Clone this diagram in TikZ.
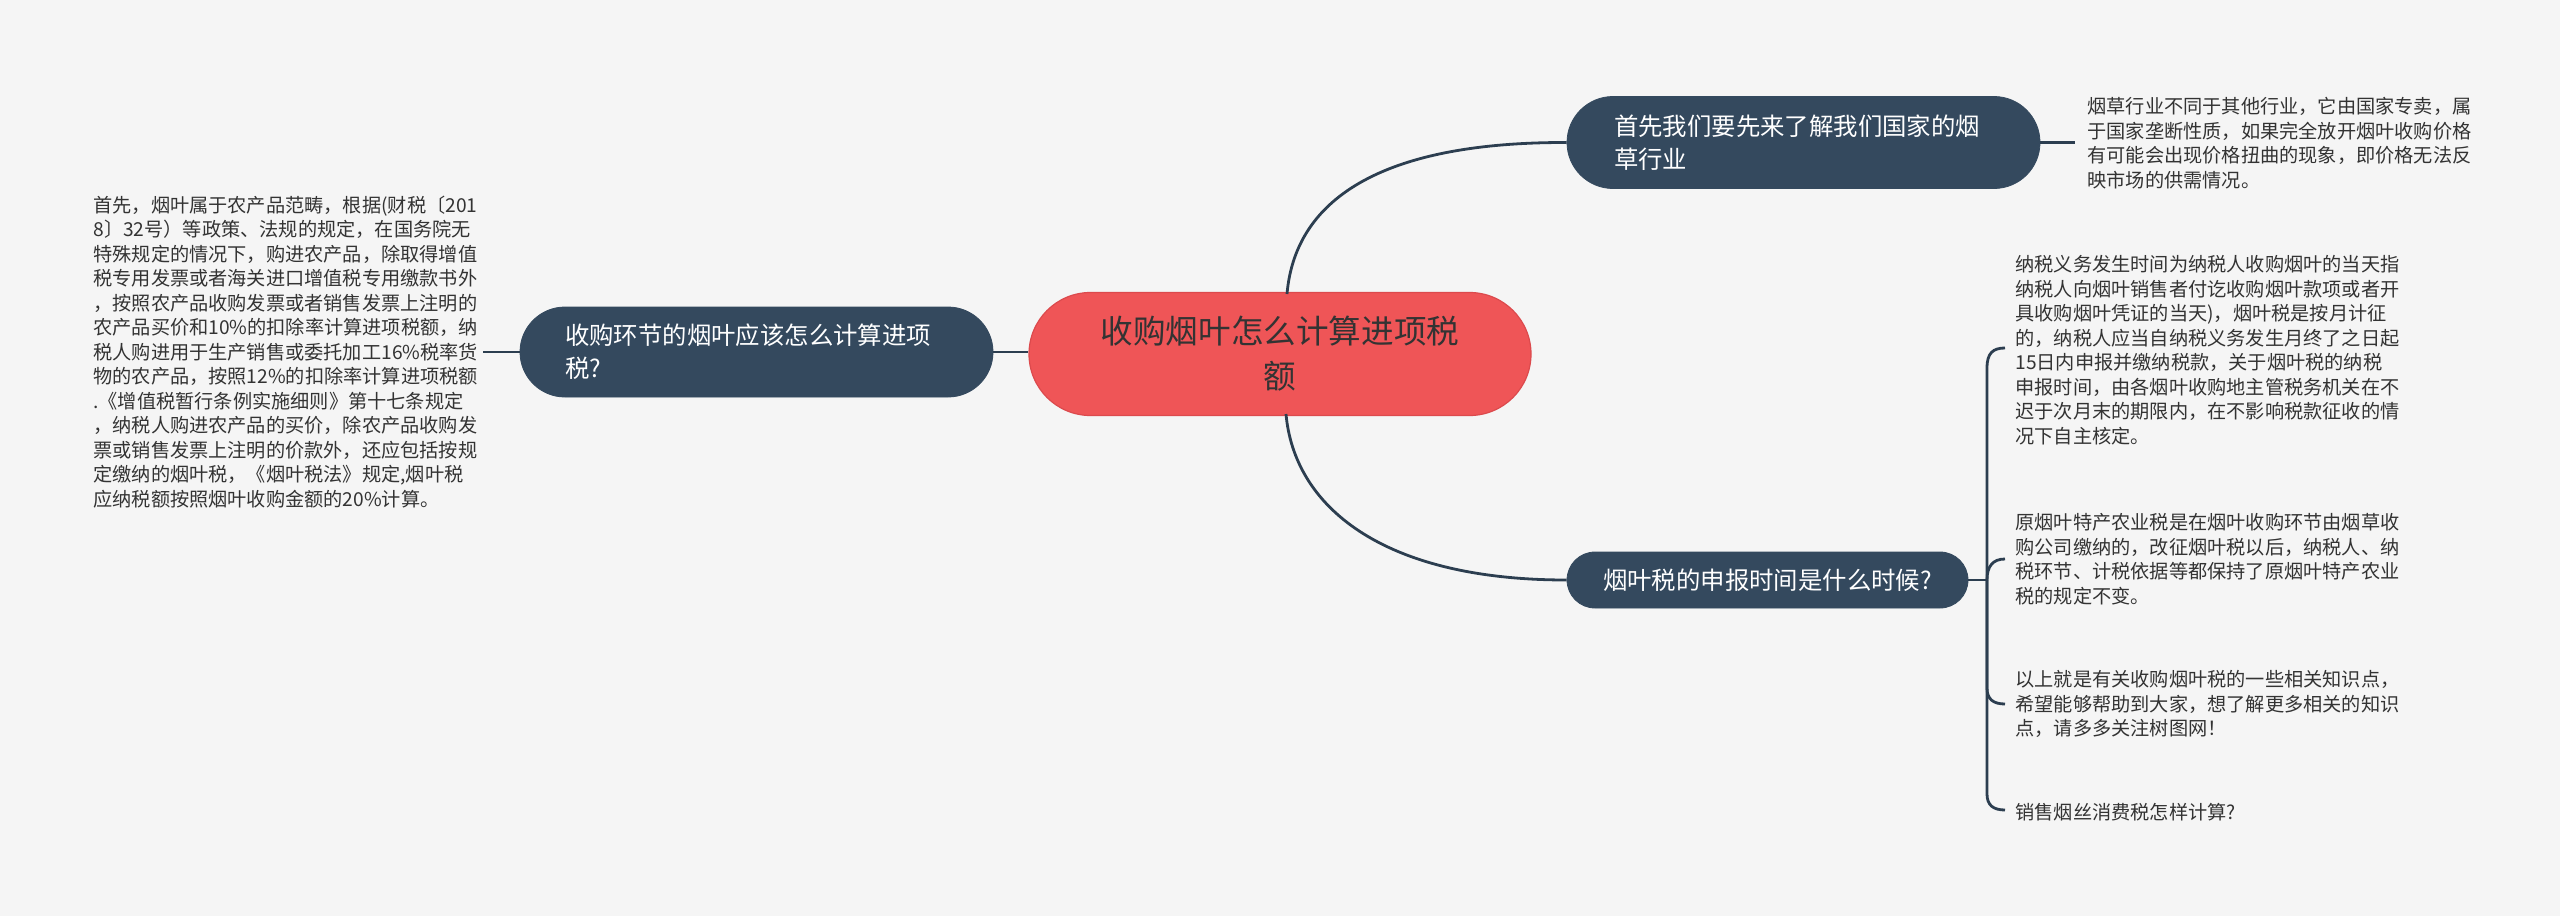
\documentclass[tikz,border=0pt]{standalone}
\usepackage{fontspec}
\setmainfont{Noto Sans CJK SC}
\definecolor{bg}{HTML}{F5F5F5}
\definecolor{dark}{HTML}{34495E}
\definecolor{edge}{HTML}{2C3E50}
\definecolor{rootred}{HTML}{EF5557}
\definecolor{rootline}{HTML}{DC4A4D}
\definecolor{txt}{HTML}{333333}
\begin{document}
\begin{tikzpicture}[x=0.5pt,y=-0.5pt,
  conn/.style={draw=edge,line width=1.4pt},
  mainnode/.style={fill=dark,draw=dark,text=white,font=\fontsize{12.2pt}{16.5pt}\selectfont,inner ysep=0pt},
  leaf/.style={text=txt,font=\fontsize{9.6pt}{12.25pt}\selectfont,align=left,anchor=west,inner sep=0pt,text width=215pt}]
\fill[bg] (0,0) rectangle (2560,916);
\useasboundingbox (0,0) rectangle (2560,916);

% root
\node[fill=rootred,draw=rootline,line width=0.6pt,text=txt,minimum width=251pt,minimum height=61.5pt,
  rounded corners=30.75pt,align=center,inner sep=0pt,font=\fontsize{16.3pt}{22.5pt}\selectfont]
  (root) at (1280,354) {收购烟叶怎么计算进项税\\额};

% main branches
\node[mainnode,minimum width=236.5pt,minimum height=46pt,rounded corners=23pt,
  text width=189.5pt,inner xsep=23.5pt,align=left] (n1) at (1803.5,142.5)
  {首先我们要先来了解我们国家的烟\\草行业};
\node[mainnode,minimum width=236.5pt,minimum height=45pt,rounded corners=22.5pt,
  text width=191.5pt,inner xsep=22.5pt,align=left] (n2) at (756.5,352)
  {收购环节的烟叶应该怎么计算进项\\税?};
\node[mainnode,minimum width=200.5pt,minimum height=28pt,rounded corners=14pt,
  align=center,inner xsep=0pt] (n3) at (1767.5,580)
  {烟叶税的申报时间是什么时候?};

% leaves
\node[leaf] (t0) at (2087,143) {烟草行业不同于其他行业，它由国家专卖，属\\
于国家垄断性质，如果完全放开烟叶收购价格\\
有可能会出现价格扭曲的现象，即价格无法反\\
映市场的供需情况。};

\node[leaf] (tl) at (93,352) {首先，烟叶属于农产品范畴，根据(财税〔201\\
8〕32号）等政策、法规的规定，在国务院无\\
特殊规定的情况下，购进农产品，除取得增值\\
税专用发票或者海关进口增值税专用缴款书外\\
，按照农产品收购发票或者销售发票上注明的\\
农产品买价和10\%的扣除率计算进项税额，纳\\
税人购进用于生产销售或委托加工16\%税率货\\
物的农产品，按照12\%的扣除率计算进项税额\\
.《增值税暂行条例实施细则》第十七条规定\\
，纳税人购进农产品的买价，除农产品收购发\\
票或销售发票上注明的价款外，还应包括按规\\
定缴纳的烟叶税，《烟叶税法》规定,烟叶税\\
应纳税额按照烟叶收购金额的20\%计算。};

\node[leaf] (t1) at (2015,350) {纳税义务发生时间为纳税人收购烟叶的当天指\\
纳税人向烟叶销售者付讫收购烟叶款项或者开\\
具收购烟叶凭证的当天)，烟叶税是按月计征\\
的，纳税人应当自纳税义务发生月终了之日起\\
15日内申报并缴纳税款，关于烟叶税的纳税\\
申报时间，由各烟叶收购地主管税务机关在不\\
迟于次月末的期限内，在不影响税款征收的情\\
况下自主核定。};

\node[leaf] (t2) at (2015,559) {原烟叶特产农业税是在烟叶收购环节由烟草收\\
购公司缴纳的，改征烟叶税以后，纳税人、纳\\
税环节、计税依据等都保持了原烟叶特产农业\\
税的规定不变。};

\node[leaf] (t3) at (2015,704) {以上就是有关收购烟叶税的一些相关知识点，\\
希望能够帮助到大家，想了解更多相关的知识\\
点，请多多关注树图网！};

\node[leaf] (t4) at (2015,812) {销售烟丝消费税怎样计算?};

% connectors
\coordinate (r1) at (1287,294);
\coordinate (r2) at (1286,414);
\draw[conn] (r1) .. controls (1295,200) and (1380,142) .. (n1.west);
\draw[conn] (r2) .. controls (1294,505) and (1380,580) .. (n3.west);
\draw[conn] (n2.east) -- (n2.east -| root.west);
\coordinate (lc) at (483,352);
\draw[conn] (lc) -- (n2.west);
\coordinate (c1) at (2075,142.5);
\draw[conn] (n1.east) -- (c1);

\coordinate (sp) at (1987,580);
\coordinate (k1) at (2005,348);
\coordinate (k2) at (2005,559);
\coordinate (k3) at (2005,704);
\coordinate (k4) at (2005,810);
\draw[conn] (n3.east) -- (sp);
\draw[conn] (sp) -- (1987,368) .. controls (1987,353) and (1993,348) .. (k1);
\draw[conn] (sp) .. controls (1987,566) and (1993,559) .. (k2);
\draw[conn] (sp) -- (1987,688) .. controls (1987,699) and (1993,704) .. (k3);
\draw[conn] (sp) -- (1987,794) .. controls (1987,805) and (1993,810) .. (k4);
\end{tikzpicture}
\end{document}
